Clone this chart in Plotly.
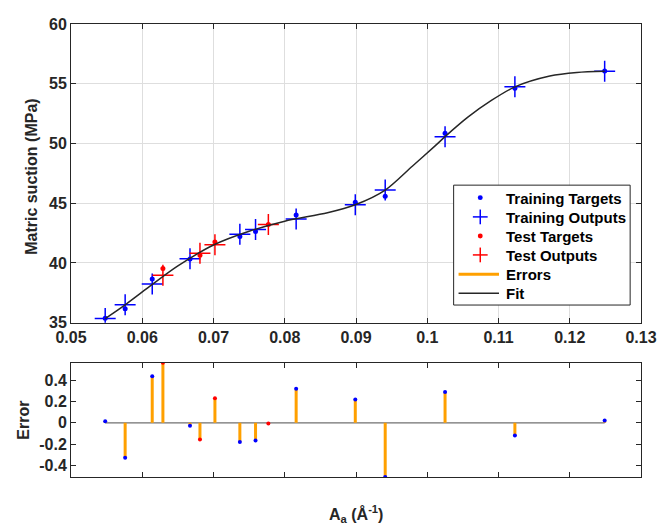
import plotly.graph_objects as go

# ---- data ----
train_x = [0.0548, 0.0576, 0.0614, 0.0667, 0.0737, 0.0759, 0.0816, 0.0899, 0.0941, 0.1025, 0.1123, 0.1249]
train_out = [35.35, 36.50, 38.23, 40.35, 42.40, 42.81, 43.69, 44.87, 46.10, 50.57, 54.74, 56.05]
train_err = [0.015, -0.327, 0.438, -0.028, -0.18, -0.167, 0.32, 0.22, -0.509, 0.29, -0.12, 0.021]

test_x = [0.0629, 0.0681, 0.0702, 0.0777]
test_out = [38.97, 40.81, 41.52, 43.22]
test_err = [0.565, -0.157, 0.23, -0.006]

fit_x = [0.0548, 0.0576, 0.0614, 0.0650, 0.0700, 0.0750, 0.0800, 0.0860, 0.0899, 0.0941,
         0.0979, 0.1011, 0.1025, 0.1057, 0.1090, 0.1123, 0.1172, 0.1210, 0.1249]
fit_y = [35.35, 36.50, 38.20, 39.75, 41.50, 42.65, 43.50, 44.20, 44.87, 46.10,
         48.10, 49.80, 50.57, 52.20, 53.60, 54.74, 55.65, 55.95, 56.05]

x_ticks = [0.05, 0.06, 0.07, 0.08, 0.09, 0.10, 0.11, 0.12, 0.13]
x_tick_text = ["0.05", "0.06", "0.07", "0.08", "0.09", "0.1", "0.11", "0.12", "0.13"]
y_ticks = [35, 40, 45, 50, 55, 60]
err_ticks = [0.4, 0.2, 0, -0.2, -0.4]
err_tick_text = ["0.4", "0.2", "0", "-0.2", "-0.4"]

legend_labels = ["Training Targets", "Training Outputs", "Test Targets", "Test Outputs", "Errors", "Fit"]

train_tgt = [o + e for o, e in zip(train_out, train_err)]
test_tgt = [o + e for o, e in zip(test_out, test_err)]

BLUE = "#0000ff"
RED = "#ff0000"
ORANGE = "#ffa000"
DARK = "#262626"
FONT = "Liberation Sans, Arial, sans-serif"

fig = go.Figure()

fig.add_trace(go.Scatter(x=train_x, y=train_tgt, mode="markers", name=legend_labels[0], showlegend=False,
                         marker=dict(color=BLUE, size=5, symbol="circle"), xaxis="x", yaxis="y"))
fig.add_trace(go.Scatter(x=train_x, y=train_out, mode="markers", name=legend_labels[1], showlegend=False,
                         marker=dict(color=BLUE, size=15, symbol="cross-thin-open",
                                     line=dict(color=BLUE, width=1.5)), xaxis="x", yaxis="y"))
fig.add_trace(go.Scatter(x=test_x, y=test_tgt, mode="markers", name=legend_labels[2], showlegend=False,
                         marker=dict(color=RED, size=5, symbol="circle"), xaxis="x", yaxis="y"))
fig.add_trace(go.Scatter(x=test_x, y=test_out, mode="markers", name=legend_labels[3], showlegend=False,
                         marker=dict(color=RED, size=15, symbol="cross-thin-open",
                                     line=dict(color=RED, width=1.5)), xaxis="x", yaxis="y"))

# error stems
all_x = train_x + test_x
all_e = train_err + test_err
stem_x, stem_y = [], []
for xv, ev in zip(all_x, all_e):
    stem_x += [xv, xv, None]
    stem_y += [0, ev, None]

fig.add_trace(go.Scatter(x=[min(all_x), max(all_x)], y=[0, 0], mode="lines", showlegend=False,
                         line=dict(color="#707070", width=1.2), xaxis="x2", yaxis="y2", hoverinfo="skip"))
fig.add_trace(go.Scatter(x=stem_x, y=stem_y, mode="lines", name=legend_labels[4], showlegend=False,
                         line=dict(color=ORANGE, width=3), xaxis="x2", yaxis="y2"))
fig.add_trace(go.Scatter(x=train_x, y=train_err, mode="markers", showlegend=False,
                         marker=dict(color=BLUE, size=4), xaxis="x2", yaxis="y2"))
fig.add_trace(go.Scatter(x=test_x, y=test_err, mode="markers", showlegend=False,
                         marker=dict(color=RED, size=4), xaxis="x2", yaxis="y2"))

fig.add_trace(go.Scatter(x=fit_x, y=fit_y, mode="lines", name=legend_labels[5], showlegend=False,
                         line=dict(color=DARK, width=1.5, shape="spline", smoothing=0.8),
                         xaxis="x", yaxis="y"))

axis_common = dict(showline=True, linecolor=DARK, linewidth=1, mirror="ticks", ticks="inside",
                   ticklen=5, tickcolor=DARK, zeroline=False,
                   tickfont=dict(family=FONT, size=16, color=DARK, weight="bold"))

# page body has an 8px margin, so the figure is drawn 8px to the right and down
OFF = 8
FIG_W, FIG_H = 665 - OFF, 527 - OFF
ML, MT, MR, MB = 71 - OFF, 16 - OFF, 16, 50
W_plot = FIG_W - ML - MR
H_plot = FIG_H - MT - MB

def px_to_paper(px, py):
    return (px - OFF - ML) / W_plot, 1 - (py - OFF - MT) / H_plot

fig.update_layout(
    width=FIG_W, height=FIG_H,
    margin=dict(l=ML, r=MR, t=MT, b=MB),
    paper_bgcolor="white", plot_bgcolor="white",
    font=dict(family=FONT, color=DARK),
    showlegend=False,
    xaxis=dict(domain=[0, 1], range=[0.05, 0.13], tickvals=x_ticks, ticktext=x_tick_text,
               showgrid=True, gridcolor="#dedede", gridwidth=1, anchor="y", **axis_common),
    yaxis=dict(domain=[0.3406, 1], range=[35, 60], tickvals=y_ticks,
               showgrid=True, gridcolor="#dedede", gridwidth=1, anchor="x", **axis_common),
    xaxis2=dict(domain=[0, 1], range=[0.05, 0.13], tickvals=x_ticks, showticklabels=False,
                showgrid=False, anchor="y2", **axis_common),
    yaxis2=dict(domain=[0, 0.2523], range=[min(all_e), max(all_e)], tickvals=err_ticks,
                ticktext=err_tick_text, showgrid=False, anchor="x2", **axis_common),
)

# ---- legend box (drawn as shapes + text, MATLAB style) ----
shapes = []
x0, y0 = px_to_paper(459, 180)
x1, y1 = px_to_paper(638, 302)
shapes.append(dict(type="rect", xref="paper", yref="paper", x0=x0, y0=y1, x1=x1, y1=y0,
                   fillcolor="white", line=dict(color=DARK, width=1)))
row_y = [192.7, 212.3, 231.7, 251.0, 270.7, 290.0]
sym_cx = 486
legend_styles = [("dot", BLUE), ("plus", BLUE), ("dot", RED), ("plus", RED), ("line3", ORANGE), ("line1", DARK)]
for (kind, col), ry in zip(legend_styles, row_y):
    if kind == "dot":
        a0, b0 = px_to_paper(sym_cx - 2.5, ry - 2.5)
        a1, b1 = px_to_paper(sym_cx + 2.5, ry + 2.5)
        shapes.append(dict(type="circle", xref="paper", yref="paper", x0=a0, y0=b1, x1=a1, y1=b0,
                           fillcolor=col, line=dict(color=col, width=0)))
    elif kind == "plus":
        a0, b = px_to_paper(sym_cx - 7.5, ry)
        a1, _ = px_to_paper(sym_cx + 7.5, ry)
        shapes.append(dict(type="line", xref="paper", yref="paper", x0=a0, y0=b, x1=a1, y1=b,
                           line=dict(color=col, width=1.5)))
        a, c0 = px_to_paper(sym_cx, ry - 7.5)
        _, c1 = px_to_paper(sym_cx, ry + 7.5)
        shapes.append(dict(type="line", xref="paper", yref="paper", x0=a, y0=c0, x1=a, y1=c1,
                           line=dict(color=col, width=1.5)))
    else:
        a0, b = px_to_paper(464, ry)
        a1, _ = px_to_paper(505, ry)
        shapes.append(dict(type="line", xref="paper", yref="paper", x0=a0, y0=b, x1=a1, y1=b,
                           line=dict(color=col, width=3 if kind == "line3" else 1.5)))
fig.update_layout(shapes=shapes)

for label, ry in zip(legend_labels, row_y):
    tx, ty = px_to_paper(510, ry + 0.5)
    fig.add_annotation(text="<b>" + label + "</b>", x=tx, y=ty, xref="paper", yref="paper",
                       showarrow=False, xanchor="left", yanchor="middle",
                       font=dict(family=FONT, size=15, color="black"))

ax, ay = px_to_paper(31, 172)
ex, ey = px_to_paper(22, 419)
lx, ly = px_to_paper(360, 515)
fig.add_annotation(text="<b>Matric suction (MPa)</b>", x=ax, y=ay, xref="paper", yref="paper",
                   showarrow=False, textangle=-90, xanchor="center", yanchor="middle",
                   font=dict(family=FONT, size=16, color=DARK))
fig.add_annotation(text="<b>Error</b>", x=ex, y=ey, xref="paper", yref="paper",
                   showarrow=False, textangle=-90, xanchor="center", yanchor="middle",
                   font=dict(family=FONT, size=16, color=DARK))
fig.add_annotation(text="<b>A<sub>a</sub> (Å<sup>-1</sup>)</b>", x=lx, y=ly, xref="paper", yref="paper",
                   showarrow=False, xanchor="center", yanchor="middle",
                   font=dict(family=FONT, size=16, color=DARK))

fig.write_html("out.html")
